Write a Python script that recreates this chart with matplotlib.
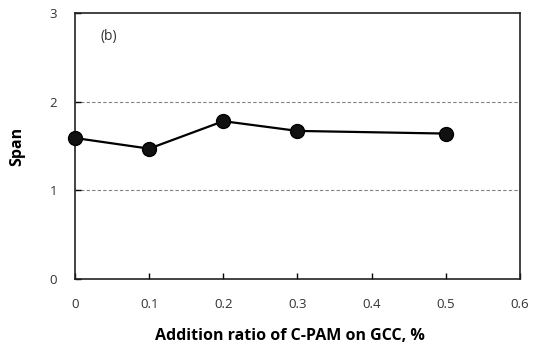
import matplotlib.pyplot as plt

plt.rcParams['font.family'] = ['Open Sans', 'DejaVu Sans']

# data
ratio = [0, 0.1, 0.2, 0.3, 0.5]
span = [1.59, 1.47, 1.78, 1.67, 1.64]
x_ticks = [0, 0.1, 0.2, 0.3, 0.4, 0.5, 0.6]
y_ticks = [0, 1, 2, 3]

fig = plt.figure(figsize=(5.33, 3.49), dpi=100)
ax = fig.add_axes([0.1407, 0.2006, 0.8349, 0.7622])

# dashed gridlines at 1 and 2
for yv in [1, 2]:
    ax.axhline(yv, color='#808080', lw=0.8, ls=(0, (3, 2)), zorder=1)

ax.plot(ratio, span, color='black', lw=1.6, marker='o', markersize=10,
        markerfacecolor='#111111', markeredgecolor='black', zorder=3, clip_on=False)

ax.set_xlim(0, 0.6)
ax.set_ylim(0, 3)
ax.set_xticks(x_ticks)
ax.set_xticklabels(['0', '0.1', '0.2', '0.3', '0.4', '0.5', '0.6'])
ax.set_yticks(y_ticks)
ax.tick_params(direction='in', length=4, width=1, labelsize=9.5, colors='black', labelcolor='#333333', pad=14)
ax.tick_params(axis='y', pad=13)
for s in ax.spines.values():
    s.set_linewidth(1.2)
    s.set_color('#222222')

ax.text(0.035, 2.73, '(b)', fontsize=10, color='#333333', va='center')
ax.set_xlabel('Addition ratio of C-PAM on GCC, %', fontsize=11.5, fontweight='bold', labelpad=14)
ax.xaxis.set_label_coords(0.484, -0.185)
ax.set_ylabel('Span', fontsize=11.5, fontweight='bold', labelpad=17)

fig.savefig('out.png', dpi=100)
